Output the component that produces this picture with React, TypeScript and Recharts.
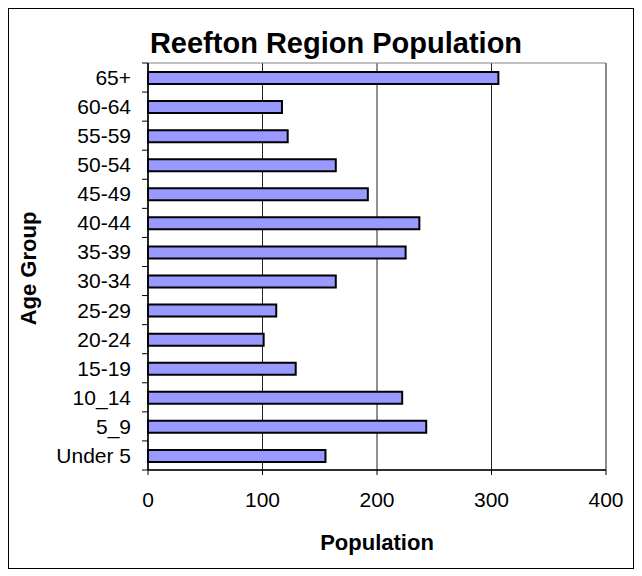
import React from 'react';
import { BarChart, Bar, XAxis, YAxis, CartesianGrid, ReferenceArea, Label } from 'recharts';

const categories = ['65+', '60-64', '55-59', '50-54', '45-49', '40-44', '35-39', '30-34', '25-29', '20-24', '15-19', '10_14', '5_9', 'Under 5'];
const population = [306, 117, 122, 164, 192, 237, 225, 164, 112, 101, 129, 222, 243, 155];
const xTicks = [0, 100, 200, 300, 400];

const data = categories.map((c, i) => ({ group: c, population: population[i] }));

const FONT = '"Liberation Sans", Arial, sans-serif';
const CHART_W = 624;
const CHART_H = 559;
const MARGIN = { top: 54, right: 27, left: 0, bottom: 38 };
const Y_W = 139;
const X_H = 60;
const PLOT_H = CHART_H - MARGIN.top - MARGIN.bottom - X_H;
const BAND = PLOT_H / categories.length;

const YTick = (props: any) => {
  const { x, y, payload, index } = props;
  const axisX = x + 17;
  return (
    <g>
      <text x={x} y={y} dy="0.355em" textAnchor="end" fontFamily={FONT} fontSize={21} fill="#000">
        {payload.value}
      </text>
      <line x1={axisX - 6} x2={axisX} y1={y + BAND / 2} y2={y + BAND / 2} stroke="#000" strokeWidth={1} />
      {index === 0 ? (
        <line x1={axisX - 6} x2={axisX} y1={y - BAND / 2} y2={y - BAND / 2} stroke="#000" strokeWidth={1} />
      ) : null}
    </g>
  );
};

export default function App() {
  return (
    <div
      style={{
        position: 'relative',
        width: 626,
        height: 561,
        border: '1px solid #000',
        boxSizing: 'border-box',
        background: '#fff',
      }}
    >
      <BarChart width={CHART_W} height={CHART_H} data={data} layout="vertical" margin={MARGIN} barSize={12}>
        <CartesianGrid horizontal={false} vertical={true} stroke="#222" strokeWidth={1} />
        <ReferenceArea x1={0} x2={400} fill="none" stroke="#808080" strokeWidth={1} ifOverflow="visible" />
        <XAxis
          type="number"
          dataKey="population"
          domain={[0, 400]}
          ticks={xTicks}
          interval={0}
          height={X_H}
          tickSize={5}
          tickMargin={17}
          axisLine={{ stroke: '#000', strokeWidth: 1.5 }}
          tickLine={{ stroke: '#000', strokeWidth: 1 }}
          tick={{ fontFamily: FONT, fontSize: 21, fill: '#000' }}
        >
          <Label
            content={(p: any) => {
              const vb = p.viewBox || {};
              return (
                <text
                  x={vb.x + vb.width / 2}
                  y={vb.y + 80}
                  textAnchor="middle"
                  fontFamily={FONT}
                  fontSize={22}
                  fontWeight="bold"
                  fill="#000"
                >
                  Population
                </text>
              );
            }}
          />
        </XAxis>
        <YAxis
          type="category"
          dataKey="group"
          width={Y_W}
          interval={0}
          tickSize={6}
          tickMargin={11}
          tickLine={false}
          axisLine={{ stroke: '#000', strokeWidth: 1.5 }}
          tick={<YTick />}
        >
          <Label
            content={(p: any) => {
              const vb = p.viewBox || {};
              const cy = vb.y + vb.height / 2 + 2;
              return (
                <text
                  x={27}
                  y={cy}
                  transform={`rotate(-90 27 ${cy})`}
                  textAnchor="middle"
                  fontFamily={FONT}
                  fontSize={22}
                  fontWeight="bold"
                  fill="#000"
                >
                  Age Group
                </text>
              );
            }}
          />
        </YAxis>
        <Bar dataKey="population" fill="#9999FF" stroke="#000" strokeWidth={2} isAnimationActive={false} />
      </BarChart>
      <svg
        width={CHART_W}
        height={CHART_H}
        style={{ position: 'absolute', left: 0, top: 0, pointerEvents: 'none' }}
      >
        <text x={327} y={44} textAnchor="middle" fontFamily={FONT} fontSize={29} fontWeight="bold" fill="#000">
          Reefton Region Population
        </text>
      </svg>
    </div>
  );
}
